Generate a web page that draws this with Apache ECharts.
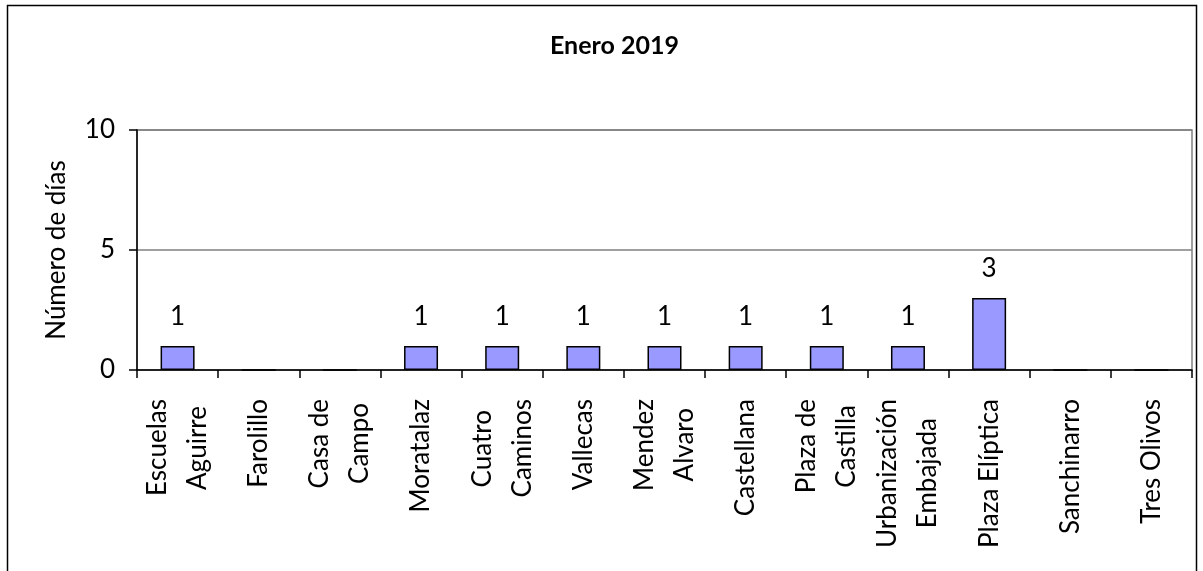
<!DOCTYPE html>
<html>
<head>
<meta charset="utf-8">
<script src="https://cdn.jsdelivr.net/npm/echarts@6/dist/echarts.min.js"></script>
<style>
html,body{margin:0;padding:0;background:#fff;}
#chart{width:1203px;height:571px;}
</style>
</head>
<body>
<div id="chart"></div>
<script>
const titleText = 'Enero 2019';
const yAxisName = 'Número de días';
const categories = ['Escuelas\nAguirre','Farolillo','Casa de\nCampo','Moratalaz','Cuatro\nCaminos','Vallecas','Mendez\nAlvaro','Castellana','Plaza de\nCastilla','Urbanización\nEmbajada','Plaza Elíptica','Sanchinarro','Tres Olivos'];
const values = [1,0,0,1,1,1,1,1,1,1,3,0,0];
const yTicks = {min:0, max:10, interval:5};

const FONT = 'Lato';
const FS = 26;
// build rich styles so that the lines of each wrapped label are centred within the label block
const ctx = document.createElement('canvas').getContext('2d');
ctx.font = FS + 'px ' + FONT;
const rich = {};
const labelText = {};
categories.forEach(function(c, ci){
  const lines = c.split('\n');
  const widths = lines.map(function(s){return ctx.measureText(s).width;});
  const maxW = Math.max.apply(null, widths);
  labelText[c] = lines.map(function(s, li){
    const key = 'c' + ci + 'l' + li;
    const pad = Math.round((maxW - widths[li]) / 2);
    rich[key] = {fontFamily:FONT,fontSize:FS,lineHeight:40,color:'#000',padding:[0,pad,0,0]};
    return '{' + key + '|' + s + '}';
  }).join('\n');
});

const chart = echarts.init(document.getElementById('chart'));
chart.setOption({
  animation:false,
  backgroundColor:'#fff',
  textStyle:{fontFamily:FONT},
  title:{text:titleText,left:545,top:28,textStyle:{fontFamily:FONT,fontSize:25,fontWeight:'bold',color:'#000'}},
  graphic:[{type:'rect',shape:{x:7.5,y:5.5,width:1189,height:580},style:{fill:'none',stroke:'#000',lineWidth:1.5},silent:true}],
  grid:{left:137,right:11,top:130,bottom:201,show:true,borderColor:'#808080',borderWidth:1.5,backgroundColor:'transparent'},
  xAxis:{
    type:'category',data:categories,
    axisLine:{lineStyle:{color:'#000',width:1.5}},
    axisTick:{show:true,inside:false,length:8,lineStyle:{color:'#000',width:1.5}},
    axisLabel:{
      interval:0,rotate:90,margin:29,color:'#000',
      formatter:function(v){return labelText[v];},
      rich:rich
    },
    splitLine:{show:false}
  },
  yAxis:{
    type:'value',min:yTicks.min,max:yTicks.max,interval:yTicks.interval,
    name:yAxisName,nameLocation:'middle',nameGap:67,
    nameTextStyle:{fontFamily:FONT,fontSize:FS,color:'#000'},
    axisLine:{show:true,lineStyle:{color:'#000',width:1.5}},
    axisTick:{show:true,inside:false,length:8,lineStyle:{color:'#000',width:1.5}},
    axisLabel:{margin:22,fontSize:FS,color:'#000',fontFamily:FONT},
    splitLine:{show:true,lineStyle:{color:'#808080',width:1.5}}
  },
  series:[{
    type:'bar',data:values,barWidth:34,
    itemStyle:{color:'#9999FF',borderColor:'#000',borderWidth:1.5},
    label:{show:true,position:'top',distance:16,fontSize:FS,color:'#000',fontFamily:FONT,
      formatter:function(p){return p.value===0?'':String(p.value);}}
  }]
});
</script>
</body>
</html>
